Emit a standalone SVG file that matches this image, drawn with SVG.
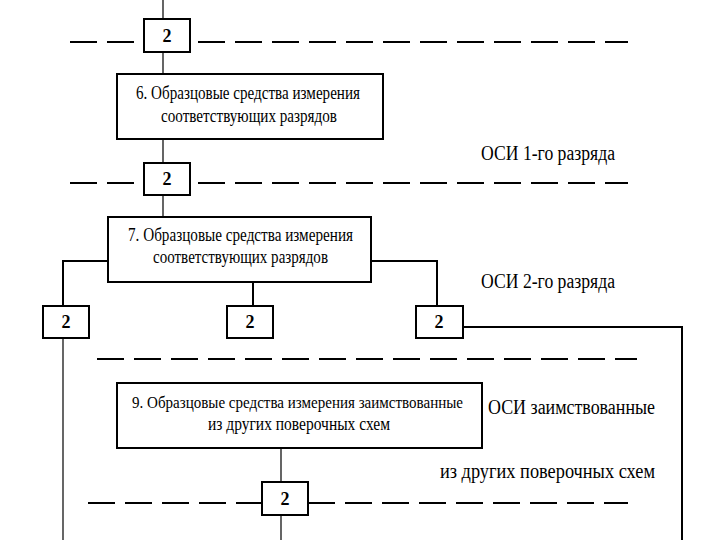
<svg xmlns="http://www.w3.org/2000/svg" width="720" height="540" viewBox="0 0 720 540">
<style>
.bg{fill:#fff}
.box{fill:#fff;stroke:#000;stroke-width:2}
.thin{stroke:#000;stroke-width:1.2;fill:none}
.thick{stroke:#000;stroke-width:2;fill:none}
.dash{stroke:#000;stroke-width:2;stroke-dasharray:27 10;fill:none}
.t{font-family:"Liberation Serif","Times New Roman",serif;font-size:19px;fill:#000}
.t9{font-size:16px}
.n{font-family:"Liberation Serif","Times New Roman",serif;font-size:18px;font-weight:bold;fill:#000;text-anchor:middle}
.lbl{font-family:"Liberation Serif","Times New Roman",serif;font-size:20px;fill:#000}
</style>
<rect class="bg" x="0" y="0" width="720" height="540"/>
<g id="axes">
<path class="dash" d="M70 42H135M198 42H628"/>
<path class="dash" d="M70 183H135M198 183H628"/>
<path class="dash" d="M97 359H637"/>
<path class="dash" d="M88 503H262M308 503H628"/>
</g>
<g id="connectors">
<path class="thin" d="M163 0V19M163 52V74M163 139V163M163 195V217"/>
<path class="thick" d="M108 261H63V306"/>
<path class="thin" d="M63 338V540"/>
<path class="thick" d="M253 282V306"/>
<path class="thick" d="M371 261H437V306"/>
<path class="thick" d="M463 327H682V540"/>
<path class="thin" d="M281 448V482M281 515V540"/>
</g>
<g id="n2a"><rect class="box" x="144" y="19" width="46" height="33"/><text class="n" x="167" y="42">2</text></g>
<g id="n6"><rect class="box" x="117" y="74" width="266" height="65"/>
<text class="t" x="136" y="99" textLength="224" lengthAdjust="spacingAndGlyphs">6. Образцовые средства измерения</text>
<text class="t" x="161" y="122" textLength="176" lengthAdjust="spacingAndGlyphs">соответствующих разрядов</text></g>
<g id="n2b"><rect class="box" x="144" y="163" width="46" height="32"/><text class="n" x="167" y="185">2</text></g>
<g id="n7"><rect class="box" x="108" y="217" width="263" height="65"/>
<text class="t" x="128" y="241" textLength="225" lengthAdjust="spacingAndGlyphs">7. Образцовые средства измерения</text>
<text class="t" x="153" y="263" textLength="175" lengthAdjust="spacingAndGlyphs">соответствующих разрядов</text></g>
<g id="n2c"><rect class="box" x="43" y="306" width="46" height="32"/><text class="n" x="66" y="328">2</text></g>
<g id="n2d"><rect class="box" x="227" y="306" width="46" height="32"/><text class="n" x="250" y="328">2</text></g>
<g id="n2e"><rect class="box" x="416" y="306" width="47" height="32"/><text class="n" x="439" y="328">2</text></g>
<g id="n9"><rect class="box" x="117" y="383" width="365" height="65"/>
<text class="t t9" x="132" y="408" textLength="331" lengthAdjust="spacingAndGlyphs">9. Образцовые средства измерения заимствованные</text>
<text class="t" x="208" y="430" textLength="182" lengthAdjust="spacingAndGlyphs">из других поверочных схем</text></g>
<g id="n2f"><rect class="box" x="262" y="482" width="46" height="33"/><text class="n" x="285" y="505">2</text></g>
<g id="labels">
<text class="lbl" x="481" y="160" textLength="134" lengthAdjust="spacingAndGlyphs">ОСИ 1-го разряда</text>
<text class="lbl" x="481" y="288" textLength="134" lengthAdjust="spacingAndGlyphs">ОСИ 2-го разряда</text>
<text class="lbl" x="488" y="414" textLength="167" lengthAdjust="spacingAndGlyphs">ОСИ заимствованные</text>
<text class="lbl" x="440" y="478" textLength="215" lengthAdjust="spacingAndGlyphs">из других поверочных схем</text>
</g>
</svg>
